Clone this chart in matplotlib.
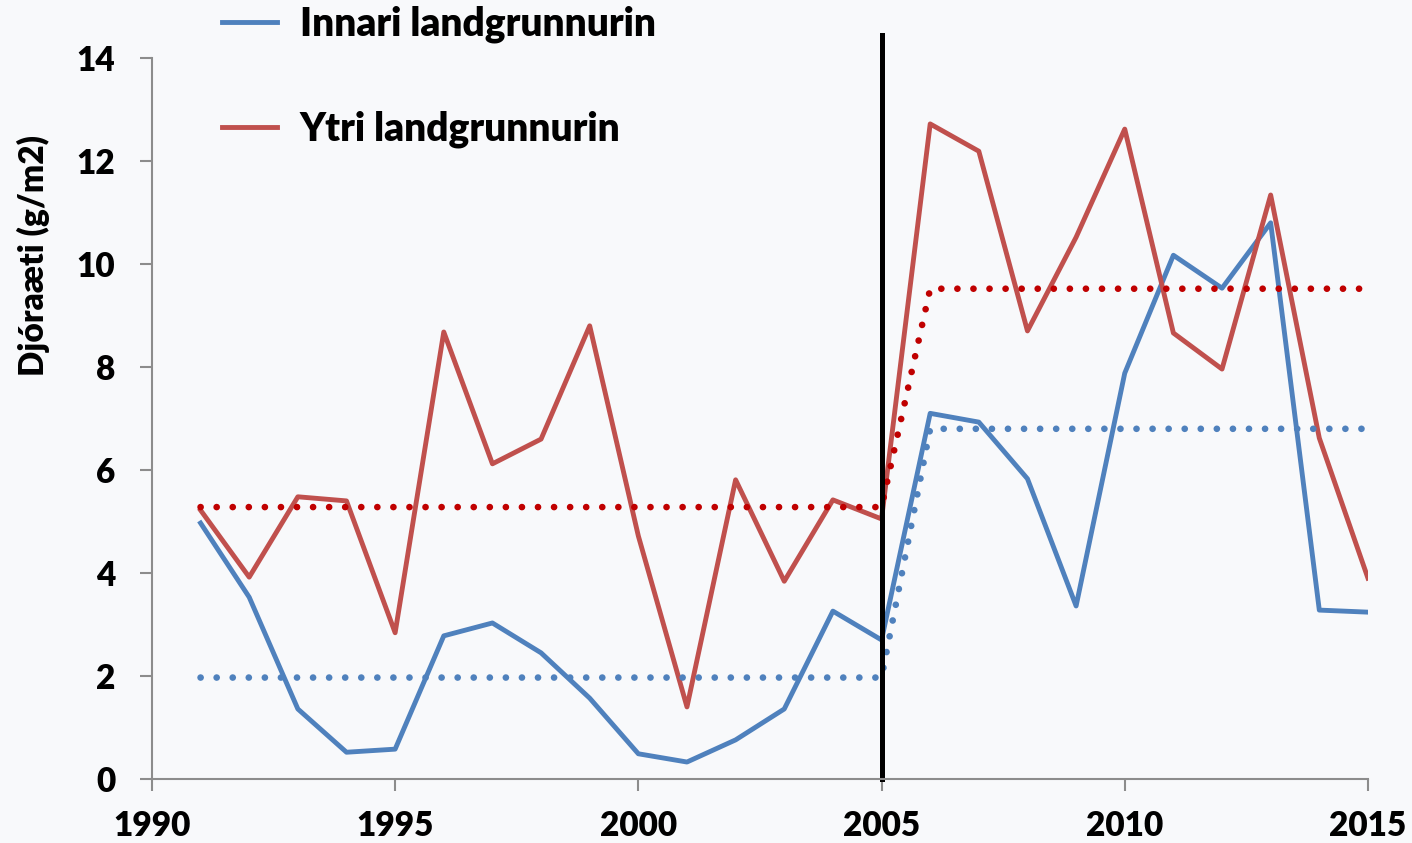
import matplotlib
matplotlib.use('Agg')
import matplotlib.pyplot as plt

# Data
years = [1991, 1992, 1993, 1994, 1995, 1996, 1997, 1998, 1999, 2000, 2001, 2002, 2003,
         2004, 2005, 2006, 2007, 2008, 2009, 2010, 2011, 2012, 2013, 2014, 2015]
innari = [4.97, 3.53, 1.36, 0.52, 0.58, 2.78, 3.03, 2.45, 1.57, 0.49, 0.33, 0.76, 1.36,
          3.26, 2.70, 7.10, 6.93, 5.83, 3.36, 7.88, 10.17, 9.53, 10.80, 3.28, 3.24]
ytri = [5.22, 3.92, 5.48, 5.40, 2.84, 8.68, 6.12, 6.60, 8.80, 4.72, 1.40, 5.81, 3.84,
        5.42, 5.05, 12.72, 12.19, 8.70, 10.52, 12.62, 8.66, 7.96, 11.34, 6.62, 3.90]

# Period means (dotted lines)
trend_years = [1991, 2005, 2006, 2015]
innari_mean = [1.97, 1.97, 6.80, 6.80]
ytri_mean = [5.28, 5.28, 9.52, 9.52]

break_year = 2005
labels = ['Innari landgrunnurin', 'Ytri landgrunnurin']

bg = '#F8F9FB'
blue = '#4F81BD'
red = '#C0504D'
dark_red = '#C00000'

plt.rcParams['font.family'] = ['Lato', 'DejaVu Sans']
plt.rcParams['font.weight'] = 'bold'

fig = plt.figure(figsize=(14.12, 8.43), dpi=100, facecolor=bg)
ax = fig.add_axes([0.1076, 0.0759, 0.8612, 0.8553], facecolor=bg)

l1, = ax.plot(years, innari, color=blue, lw=3.5, label=labels[0])
l2, = ax.plot(years, ytri, color=red, lw=3.5, label=labels[1])
ax.plot(trend_years, innari_mean, color=blue, lw=4.8, linestyle=(0, (0.01, 2.4)),
        dash_capstyle='round')
ax.plot(trend_years, ytri_mean, color=dark_red, lw=4.8, linestyle=(0, (0.01, 2.4)),
        dash_capstyle='round')

# vertical break line
ax.plot([break_year, break_year], [0, 14.45], color='black', lw=3.6, clip_on=False)

ax.set_xlim(1990, 2015)
ax.set_ylim(0, 14)
ax.set_xticks([1990, 1995, 2000, 2005, 2010, 2015])
ax.set_yticks(range(0, 15, 2))

for s in ['top', 'right']:
    ax.spines[s].set_visible(False)
for s in ['left', 'bottom']:
    ax.spines[s].set_color('#8C8C8C')
    ax.spines[s].set_linewidth(1.5)

ax.tick_params(axis='both', direction='out', length=8.5, width=1.5, color='#8C8C8C',
               labelsize=24)
ax.tick_params(axis='x', pad=14)
ax.tick_params(axis='y', pad=18)
for t in ax.get_xticklabels() + ax.get_yticklabels():
    t.set_fontweight('heavy')

fig.text(0.0234, 0.6975, 'Djóraæti (g/m2)', rotation=90, fontsize=24, fontweight='heavy',
         ha='center', va='center')

leg = fig.legend(handles=[l1, l2], loc='upper left', bbox_to_anchor=(0.157, 0.993),
                 frameon=False, fontsize=28, handlelength=1.41, handletextpad=0.6,
                 labelspacing=1.72, borderpad=0, borderaxespad=0)
for t in leg.get_texts():
    t.set_fontweight('heavy')

fig.savefig('out.png', dpi=100, facecolor=bg)
